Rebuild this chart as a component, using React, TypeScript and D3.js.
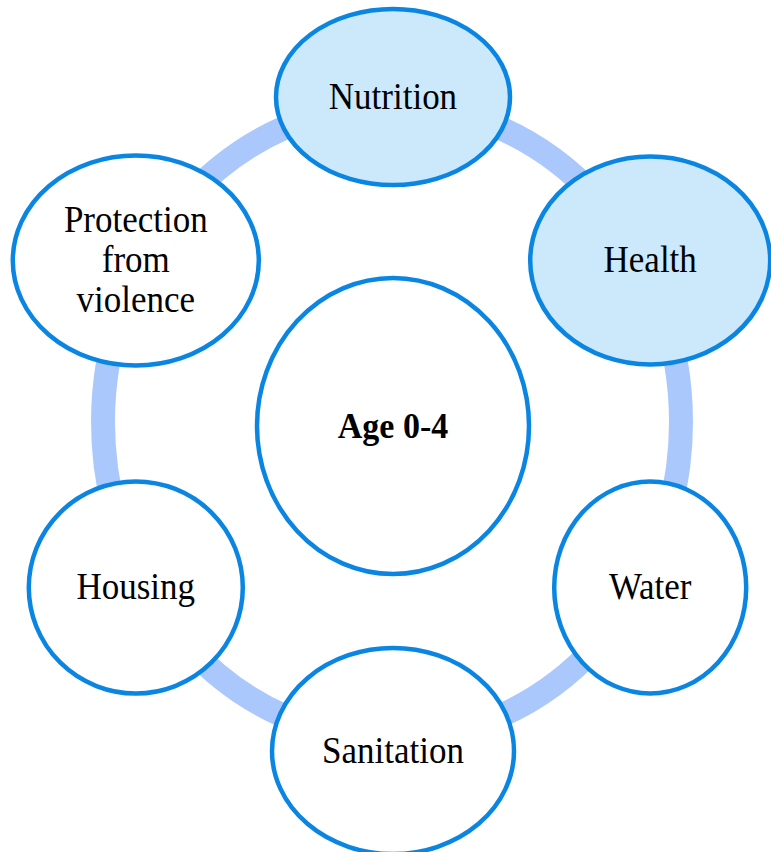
import React from "react";
import { scaleLinear } from "d3";

// node labels, clockwise from the top
const nodeLabels: string[][] = [
  ["Nutrition"],
  ["Health"],
  ["Water"],
  ["Sanitation"],
  ["Housing"],
  ["Protection", "from", "violence"],
];
// which nodes are shaded
const nodeHighlighted: boolean[] = [true, true, false, false, false, false];
const centerLabel = "Age 0-4";

// ellipse radii of each node (layout only)
const nodeRx = [117, 120, 96, 121, 107, 123];
const nodeRy = [88, 104, 106, 103, 106, 105];

const WIDTH = 771;
const HEIGHT = 852;

export default function App() {
  // index -> angle (deg), node 0 at the top
  const angle = scaleLinear().domain([0, nodeLabels.length]).range([-90, 270]);

  // orbit of the node centres
  const orbit = { cx: 393, cy: 424, rx: 297, ry: 327 };
  const xPos = (i: number) =>
    orbit.cx + orbit.rx * Math.cos((angle(i) * Math.PI) / 180);
  const yPos = (i: number) =>
    orbit.cy + orbit.ry * Math.sin((angle(i) * Math.PI) / 180);

  const font = "'Liberation Serif', 'Times New Roman', serif";
  const lineH = 40;

  return (
    <svg
      width={WIDTH}
      height={HEIGHT}
      style={{ position: "absolute", left: 0, top: 0, background: "#fff" }}
    >
      {/* ring behind the nodes */}
      <ellipse
        cx={392}
        cy={422}
        rx={289}
        ry={317}
        fill="none"
        stroke="#abc8fc"
        strokeWidth={24}
      />

      {/* centre node */}
      <ellipse
        cx={393}
        cy={426}
        rx={136}
        ry={148}
        fill="#fff"
        stroke="#0a86e2"
        strokeWidth={4.5}
      />
      <text
        x={393}
        y={426}
        textAnchor="middle"
        fontFamily={font}
        fontWeight="bold"
        fontSize={34}
        fill="#000"
        transform={`translate(0, ${426 * -0.08 + 12}) scale(1, 1.08)`}
      >
        {centerLabel}
      </text>

      {/* outer nodes */}
      {nodeLabels.map((lines, i) => {
        const cx = xPos(i);
        const cy = yPos(i);
        const y0 = cy - ((lines.length - 1) * lineH) / 2 + 12;
        return (
          <g key={i}>
            <ellipse
              cx={cx}
              cy={cy}
              rx={nodeRx[i]}
              ry={nodeRy[i]}
              fill={nodeHighlighted[i] ? "#cce9fc" : "#fff"}
              stroke="#0a86e2"
              strokeWidth={4.5}
            />
            {lines.map((l, j) => {
              const ty = y0 + j * lineH;
              return (
                <text
                  key={j}
                  x={cx}
                  y={ty}
                  textAnchor="middle"
                  fontFamily={font}
                  fontSize={35}
                  fill="#000"
                  transform={`translate(0, ${-ty * 0.08}) scale(1, 1.08)`}
                >
                  {l}
                </text>
              );
            })}
          </g>
        );
      })}
    </svg>
  );
}
